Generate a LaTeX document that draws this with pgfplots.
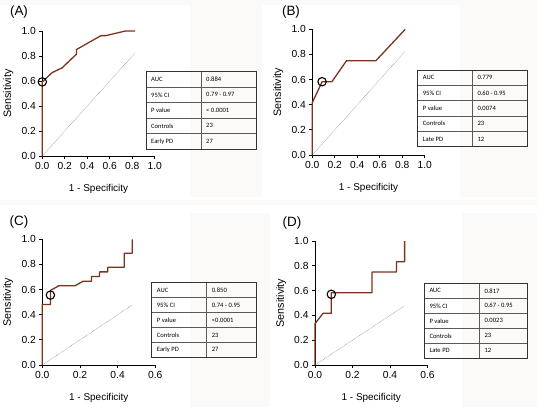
\documentclass[border=0pt]{standalone}
\usepackage{pgfplots}
\pgfplotsset{compat=1.18}
\usepackage{fontspec}
\setmainfont{Liberation Sans}
\newfontfamily\tabfont{Carlito}
\definecolor{roc}{RGB}{125,50,30}
\definecolor{bgfaint}{RGB}{251,250,248}
\definecolor{tabline}{RGB}{90,90,90}

\pgfplotsset{
  rocstyle/.style={
    scale only axis,
    axis lines=left,
    axis line style={-, line width=0.9pt, black},
    tick align=outside,
    major tick length=3bp,
    tick style={black, line width=0.8pt},
    ymin=0, ymax=1,
    ytick={0,0.2,0.4,0.6,0.8,1.0},
    /pgf/number format/.cd, fixed, fixed zerofill, precision=1, assume math mode=true,
    /pgfplots/.cd,
    tick label style={font=\fontsize{10.3}{12}\selectfont},
    clip=false,
    xlabel={1 - Specificity},
    ylabel={Sensitivity},
    every axis x label/.style={at={(axis description cs:0.5,0)}, anchor=center, yshift=-33bp, font=\fontsize{10}{12}\selectfont},
    every axis y label/.style={at={(axis description cs:-0.302,0.5)}, anchor=center, rotate=90, font=\fontsize{10.8}{12}\selectfont},
  },
  curve/.style={color=roc, line width=1.3pt, line join=round},
  diag/.style={color=gray, line width=0.45pt, dash pattern=on 0.6pt off 0.8pt},
  cutoff/.style={only marks, mark=o, mark size=4.2bp, mark options={black, line width=1.1pt}},
}

\newcommand\tabtxt{\tabfont\fontsize{6.6}{8}\selectfont}
\newcommand\roctable[9]{%
  \pgfmathsetmacro\rh{(#4-#5)/5}
  \foreach \i in {1,2,3,4}{\draw[tabline, line width=0.5pt] (#1,{#4-\i*\rh}) -- (#3,{#4-\i*\rh});}
  \draw[tabline, line width=0.5pt] (#2,#4) -- (#2,#5);
  \draw[black!80, line width=0.7pt] (#1,#4) rectangle (#3,#5);
  \node[anchor=west, font=\tabtxt, inner sep=0pt] at (#1+5,{#4-0.5*\rh}) {AUC};
  \node[anchor=west, font=\tabtxt, inner sep=0pt] at (#1+5,{#4-1.5*\rh}) {95\% CI};
  \node[anchor=west, font=\tabtxt, inner sep=0pt] at (#1+5,{#4-2.5*\rh}) {P value};
  \node[anchor=west, font=\tabtxt, inner sep=0pt] at (#1+5,{#4-3.5*\rh}) {Controls};
  \node[anchor=west, font=\tabtxt, inner sep=0pt] at (#1+5,{#4-4.5*\rh}) {#9};
  \node[anchor=west, font=\tabtxt, inner sep=0pt] at (#2+5,{#4-0.5*\rh}) {#6};
  \node[anchor=west, font=\tabtxt, inner sep=0pt] at (#2+5,{#4-1.5*\rh}) {#7};
  \node[anchor=west, font=\tabtxt, inner sep=0pt] at (#2+5,{#4-2.5*\rh}) {#8};
  \node[anchor=west, font=\tabtxt, inner sep=0pt] at (#2+5,{#4-3.5*\rh}) {23};
}

\begin{document}
\begin{tikzpicture}[x=1bp, y=1bp]
\useasboundingbox (0,0) rectangle (537,407);
\fill[white] (0,0) rectangle (537,407);
% faint background panels
\fill[bgfaint] (0,402) rectangle (537,407);
\fill[bgfaint] (190,210) rectangle (262,402);
\fill[bgfaint] (460,210) rectangle (537,402);
\fill[bgfaint] (0,202) rectangle (537,207);
\fill[bgfaint] (190,0) rectangle (270,194);
\fill[bgfaint] (462,0) rectangle (537,194);

% ---------- Panel A ----------
\begin{axis}[rocstyle, at={(42.3bp,251bp)}, anchor=south west, width=112.5bp, height=125bp,
  xmin=0, xmax=1, xtick={0,0.2,0.4,0.6,0.8,1.0}]
\addplot[diag] coordinates {(0,0) (0.826,0.826)};
\addplot[curve] coordinates {
(0,0) (0,0.593) (0.087,0.667) (0.174,0.704) (0.304,0.815) (0.304,0.852)
(0.522,0.963) (0.565,0.963) (0.739,1.0) (0.826,1.0)};
\addplot[cutoff] coordinates {(0,0.593)};
\end{axis}
\node[font=\fontsize{13.5}{15}\selectfont] at (19,395) {(A)};
\roctable{146}{201}{256}{335.3}{258}{0.884}{0.79 - 0.97}{< 0.0001}{Early PD}
\node[anchor=west, font=\tabtxt, inner sep=0pt] at (206,{258+0.5*(335.3-258)/5}) {27};

% ---------- Panel B ----------
\begin{axis}[rocstyle, at={(312.3bp,252bp)}, anchor=south west, width=112.5bp, height=125.7bp,
  xmin=0, xmax=1, xtick={0,0.2,0.4,0.6,0.8,1.0}]
\addplot[diag] coordinates {(0,0) (0.826,0.826)};
\addplot[curve] coordinates {
(0,0) (0,0.417) (0.087,0.583) (0.174,0.583) (0.304,0.75) (0.565,0.75) (0.826,1.0)};
\addplot[cutoff] coordinates {(0.087,0.583)};
\end{axis}
\node[font=\fontsize{13.5}{15}\selectfont] at (291,395) {(B)};
\roctable{417.7}{472.3}{527.3}{337}{260.3}{0.779}{0.60 - 0.95}{0.0074}{Late PD}
\node[anchor=west, font=\tabtxt, inner sep=0pt] at (477.3,{260.3+0.5*(337-260.3)/5}) {12};

% ---------- Panel C ----------
\begin{axis}[rocstyle, at={(42.3bp,42bp)}, anchor=south west, width=113bp, height=125.7bp,
  xmin=0, xmax=0.6, xtick={0,0.2,0.4,0.6}]
\addplot[diag] coordinates {(0,0) (0.478,0.478)};
\addplot[curve] coordinates {
(0,0) (0,0.481) (0.043,0.481) (0.043,0.593) (0.087,0.630) (0.174,0.630)
(0.217,0.667) (0.261,0.667) (0.261,0.704) (0.304,0.704) (0.304,0.741)
(0.348,0.741) (0.348,0.778) (0.435,0.778) (0.435,0.889) (0.478,0.889) (0.478,1.0)};
\addplot[cutoff] coordinates {(0.043,0.556)};
\end{axis}
\node[font=\fontsize{13.5}{15}\selectfont] at (19,185) {(C)};
\roctable{151.7}{206.7}{256.7}{124.3}{49.7}{0.850}{0.74 - 0.95}{<0.0001}{Early PD}
\node[anchor=west, font=\tabtxt, inner sep=0pt] at (211.7,{49.7+0.5*(124.3-49.7)/5}) {27};

% ---------- Panel D ----------
\begin{axis}[rocstyle, at={(315bp,42bp)}, anchor=south west, width=112.5bp, height=124bp,
  xmin=0, xmax=0.6, xtick={0,0.2,0.4,0.6}]
\addplot[diag] coordinates {(0,0) (0.478,0.478)};
\addplot[curve] coordinates {
(0,0) (0,0.333) (0.043,0.417) (0.087,0.417) (0.087,0.583) (0.304,0.583)
(0.304,0.75) (0.435,0.75) (0.435,0.833) (0.478,0.833) (0.478,1.0)};
\addplot[cutoff] coordinates {(0.087,0.57)};
\end{axis}
\node[font=\fontsize{13.5}{15}\selectfont] at (292,184) {(D)};
\roctable{424.3}{479.3}{527.3}{123.7}{48.7}{0.817}{0.67 - 0.95}{0.0023}{Late PD}
\node[anchor=west, font=\tabtxt, inner sep=0pt] at (484.3,{48.7+0.5*(123.7-48.7)/5}) {12};
\end{tikzpicture}
\end{document}
